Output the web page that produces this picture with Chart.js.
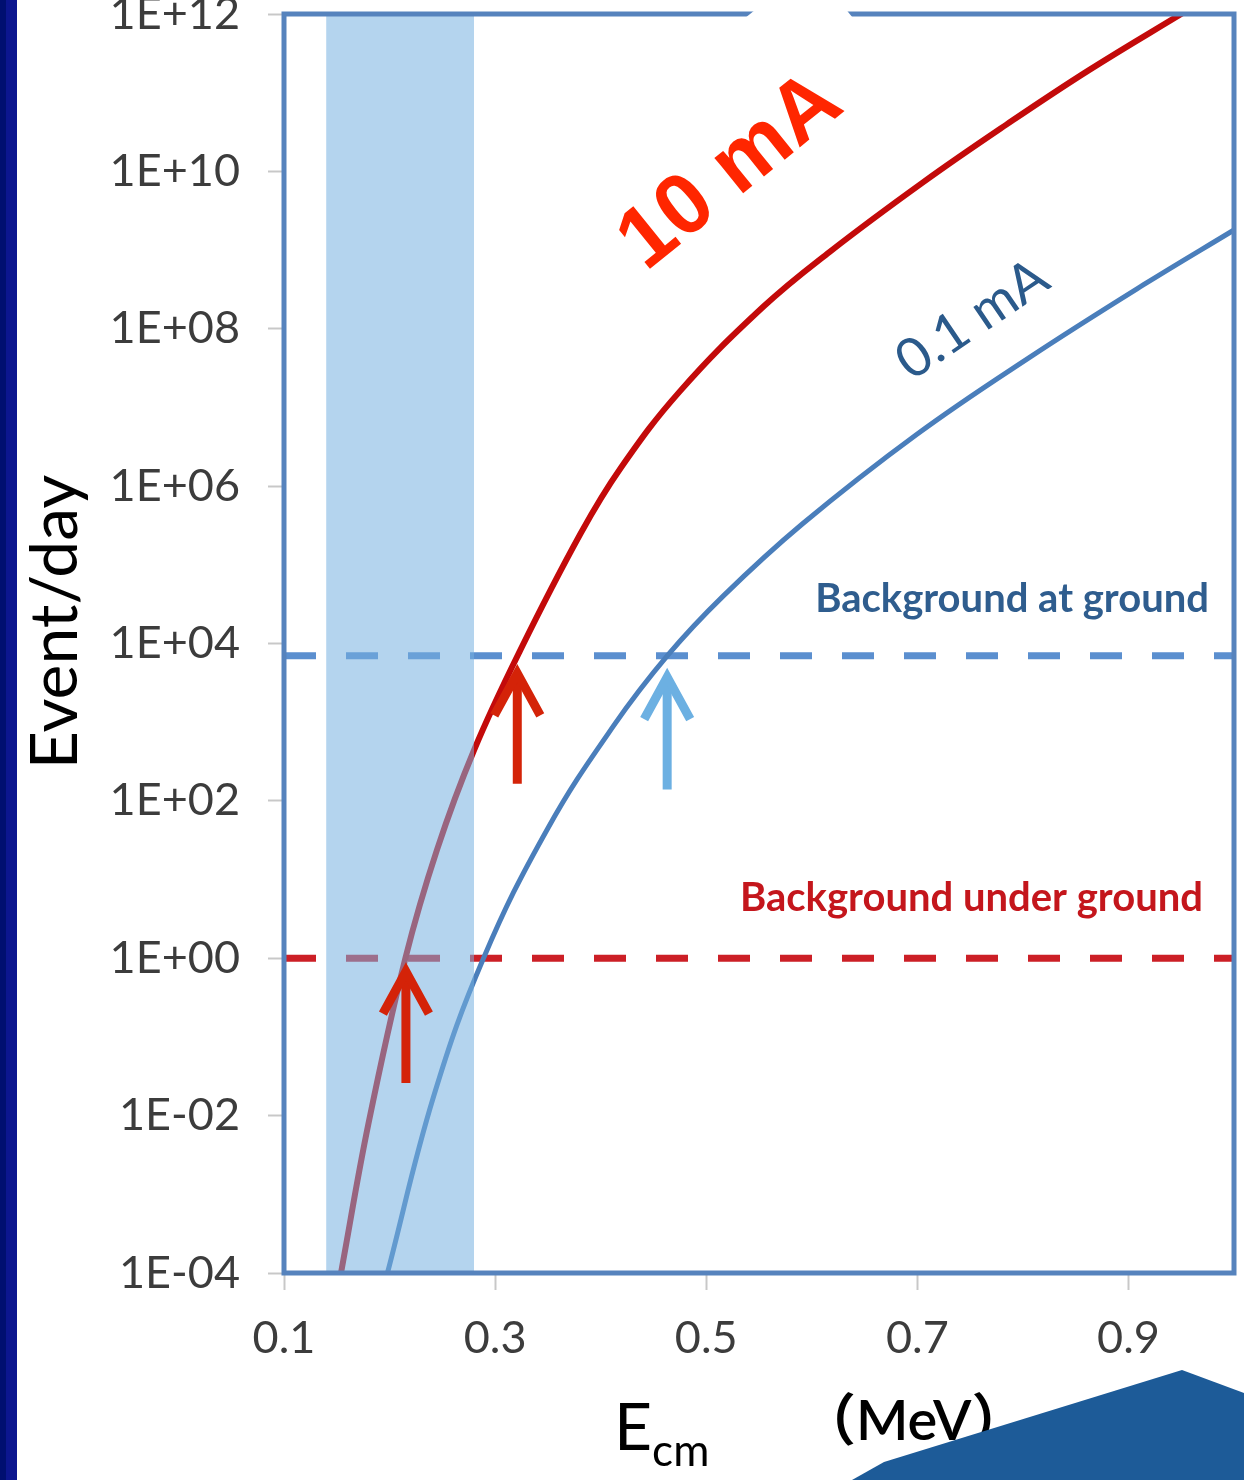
<!DOCTYPE html>
<html><head><meta charset="utf-8">
<script src="https://cdn.jsdelivr.net/npm/chart.js@4.4.1/dist/chart.umd.min.js"></script>
<style>html,body{margin:0;padding:0;background:#fff;overflow:hidden}canvas{display:block}</style>
</head><body>
<canvas id="c" width="1244" height="1480"></canvas>
<script>
// ---- data ----
const energyRed = [0.154, 0.18, 0.215, 0.245, 0.28, 0.324, 0.381, 0.419, 0.475, 0.554, 0.617, 0.705, 0.784, 0.863, 0.955];
const eventsRed = [1e-4, 7.9e-3, 1, 24, 440, 8.3e3, 2.5e5, 1.7e6, 1.6e7, 1.9e8, 9.5e8, 7.2e9, 3.9e10, 1.95e11, 1.1e12];
const energyBlue = [0.198, 0.242, 0.289, 0.35, 0.412, 0.464, 0.516, 0.591, 0.699, 0.806, 0.914, 1.0];
const eventsBlue = [1e-4, 1.8e-2, 1, 45, 890, 7.2e3, 4.0e4, 3.3e5, 4.5e6, 4.3e7, 3.6e8, 1.8e9];
const bgGroundLevel = 7000;
const bgUnderLevel = 1;
const xRange = [0.1, 1.0];
const yRange = [1e-4, 1e12];
const xTickValues = [0.1, 0.3, 0.5, 0.7, 0.9];
const xTickLabels = ['0.1', '0.3', '0.5', '0.7', '0.9'];
const yTickValues = [1e-4, 1e-2, 1, 1e2, 1e4, 1e6, 1e8, 1e10, 1e12];
const yTickLabels = ['1E-04', '1E-02', '1E+00', '1E+02', '1E+04', '1E+06', '1E+08', '1E+10', '1E+12'];
const bandRange = [0.14, 0.28];
const arrowEnergy = [0.2155, 0.321, 0.463];
const arrowTip = [0.76, 4700, 4200];
const arrowTail = [0.026, 165, 140];
const arrowColors = ['#d42308', '#d42308', '#6cb0e2'];

const toXY = (xs, ys) => xs.map((x, i) => ({x: x, y: ys[i]}));

const overlay = {
  id: 'overlay',
  beforeDraw(chart) {
    const ctx = chart.ctx;
    ctx.save(); ctx.fillStyle = '#ffffff'; ctx.fillRect(0, 0, chart.width, chart.height); ctx.restore();
  },
  afterDatasetsDraw(chart) {
    const ctx = chart.ctx, a = chart.chartArea, xs = chart.scales.x;
    const b0 = xs.getPixelForValue(bandRange[0]), b1 = xs.getPixelForValue(bandRange[1]);
    ctx.save();
    ctx.fillStyle = 'rgba(118,176,224,0.55)';
    ctx.fillRect(b0, a.top, b1 - b0, a.bottom - a.top);
    ctx.restore();
  },
  afterDraw(chart) {
    const ctx = chart.ctx, a = chart.chartArea, xs = chart.scales.x, ys = chart.scales.y;
    // frame
    ctx.save();
    ctx.strokeStyle = '#5683bd'; ctx.lineWidth = 5;
    ctx.strokeRect(a.left, a.top, a.right - a.left, a.bottom - a.top);
    ctx.restore();
    // arrows
    arrowEnergy.forEach((e, i) => {
      const x = xs.getPixelForValue(e), yt = ys.getPixelForValue(arrowTip[i]), yb = ys.getPixelForValue(arrowTail[i]);
      ctx.save();
      ctx.strokeStyle = arrowColors[i]; ctx.lineWidth = 9; ctx.lineCap = 'butt'; ctx.lineJoin = 'miter';
      ctx.beginPath(); ctx.moveTo(x, yb); ctx.lineTo(x, yt + 6); ctx.stroke();
      ctx.beginPath(); ctx.moveTo(x - 23, yt + 46); ctx.lineTo(x, yt + 4); ctx.lineTo(x + 23, yt + 46); ctx.stroke();
      ctx.restore();
    });
    // labels
    ctx.save();
    ctx.textBaseline = 'alphabetic';
    ctx.textAlign = 'right';
    ctx.font = 'bold 40px Lato, sans-serif';
    ctx.fillStyle = '#2f5d8e';
    ctx.fillText('Background at ground', 1209, 612);
    ctx.fillStyle = '#c4161c';
    ctx.fillText('Background under ground', 1203, 911);
    ctx.restore();
    // 0.1 mA
    ctx.save();
    ctx.translate(982, 334); ctx.rotate(-34 * Math.PI / 180);
    ctx.font = '54px Lato, sans-serif'; ctx.fillStyle = '#2b5a8b';
    ctx.textAlign = 'center'; ctx.textBaseline = 'alphabetic';
    ctx.fillText('0.1 mA', 0, 0);
    ctx.restore();
    // white label box + 10 mA
    ctx.save();
    ctx.translate(746, 191); ctx.rotate(-39 * Math.PI / 180);
    ctx.fillStyle = '#ffffff';
    ctx.fillRect(-180, -135, 372, 189);
    ctx.font = 'bold 86px "Liberation Sans", Arial, sans-serif'; ctx.fillStyle = '#ff2600';
    ctx.textAlign = 'center'; ctx.textBaseline = 'alphabetic';
    ctx.fillText('10 mA', 0, 0);
    ctx.restore();
    // axis titles
    ctx.save();
    ctx.fillStyle = '#000000';
    ctx.translate(77, 622); ctx.rotate(-Math.PI / 2);
    ctx.font = '66px Lato, sans-serif'; ctx.textAlign = 'center'; ctx.textBaseline = 'alphabetic';
    ctx.fillText('Event/day', 0, 0);
    ctx.restore();
    ctx.save();
    ctx.fillStyle = '#000000'; ctx.textAlign = 'left'; ctx.textBaseline = 'alphabetic';
    ctx.font = '66px Lato, sans-serif';
    ctx.fillText('E', 614, 1450);
    const ew = ctx.measureText('E').width;
    ctx.font = '44px Lato, sans-serif';
    ctx.fillText('cm', 614 + ew, 1466);
    ctx.font = '600 56px Lato, "Noto Sans CJK SC", sans-serif';
    ctx.fillText('（MeV）', 800, 1440);
    ctx.restore();
    // slide decorations
    ctx.save();
    ctx.fillStyle = '#000f70'; ctx.fillRect(0, 0, 6, chart.height);
    ctx.fillStyle = '#0c168f'; ctx.fillRect(6, 0, 11, chart.height);
    ctx.fillStyle = '#1d5b98';
    ctx.beginPath();
    ctx.moveTo(852, 1480); ctx.lineTo(884, 1462); ctx.lineTo(1182, 1370); ctx.lineTo(1244, 1393); ctx.lineTo(1244, 1480);
    ctx.closePath(); ctx.fill();
    ctx.restore();
  }
};

new Chart(document.getElementById('c'), {
  type: 'line',
  data: {
    datasets: [
      {label: '10 mA', data: toXY(energyRed, eventsRed), borderColor: '#c30a0a', borderWidth: 6, pointRadius: 0, tension: 0.4, fill: false},
      {label: '0.1 mA', data: toXY(energyBlue, eventsBlue), borderColor: '#4a7ebb', borderWidth: 5, pointRadius: 0, tension: 0.4, fill: false},
      {label: 'Background at ground', data: toXY(xRange, [bgGroundLevel, bgGroundLevel]), borderColor: '#5b8fcf', borderWidth: 7, borderDash: [32, 30], pointRadius: 0, fill: false},
      {label: 'Background under ground', data: toXY(xRange, [bgUnderLevel, bgUnderLevel]), borderColor: '#cc1f26', borderWidth: 7, borderDash: [32, 30], pointRadius: 0, fill: false}
    ]
  },
  options: {
    responsive: false, animation: false, devicePixelRatio: 1,
    layout: {padding: {top: 14, right: 10, left: 0, bottom: 0}},
    plugins: {legend: {display: false}, tooltip: {enabled: false}},
    scales: {
      x: {
        type: 'linear', min: xRange[0], max: xRange[1],
        afterBuildTicks: (s) => { s.ticks = xTickValues.map(v => ({value: v})); },
        afterFit: (s) => { s.height = 207; s.paddingLeft = 0; s.paddingRight = 0; },
        ticks: {callback: (v, i) => xTickLabels[i], font: {family: 'Lato', size: 45}, color: '#3c3c3c', padding: 21, maxRotation: 0, autoSkip: false},
        grid: {drawOnChartArea: false, drawTicks: true, tickLength: 17, tickColor: '#c8c8c8', tickWidth: 2},
        border: {display: false}
      },
      y: {
        type: 'logarithmic', min: yRange[0], max: yRange[1],
        afterBuildTicks: (s) => { s.ticks = yTickValues.map(v => ({value: v})); },
        afterFit: (s) => { s.width = 284; s.paddingTop = 0; s.paddingBottom = 0; },
        ticks: {callback: (v, i) => yTickLabels[i], font: {family: 'Lato', size: 45}, color: '#3c3c3c', padding: 28, autoSkip: false},
        grid: {drawOnChartArea: false, drawTicks: true, tickLength: 16, tickColor: '#c8c8c8', tickWidth: 2},
        border: {display: false}
      }
    }
  },
  plugins: [overlay]
});
</script>
</body></html>
